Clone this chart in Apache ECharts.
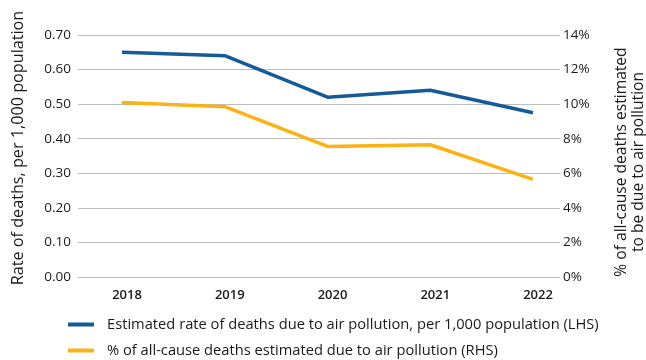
<!DOCTYPE html>
<html>
<head>
<meta charset="utf-8">
<script src="https://cdn.jsdelivr.net/npm/echarts@6/dist/echarts.min.js"></script>
<style>
  html, body { margin: 0; padding: 0; background: #fff; }
  #chart { width: 646px; height: 360px; }
</style>
</head>
<body>
<div id="chart"></div>
<script>
// Years on the horizontal axis
const years = ['2018', '2019', '2020', '2021', '2022'];
// Deaths due to air pollution per 1,000 population (left axis)
const ratePer1000 = [0.65, 0.64, 0.52, 0.54, 0.475];
// Share of all-cause deaths attributed to air pollution, % (right axis)
const sharePct = [10.1, 9.85, 7.55, 7.65, 5.65];

const rateName = 'Estimated rate of deaths due to air pollution, per 1,000 population (LHS)';
const shareName = '% of all-cause deaths estimated due to air pollution (RHS)';

const FONT = '"Open Sans", sans-serif';
const TXT = '#1a1a1a';
const BLUE = '#175a98';
const GOLD = '#fbb216';

const plotTop = 35, plotBottom = 83;

const chart = echarts.init(document.getElementById('chart'));
chart.setOption({
  animation: false,
  textStyle: { fontFamily: FONT, color: TXT },
  grid: [
    // frame carrying the gridlines and tick labels
    { left: 78, right: 86, top: plotTop, bottom: plotBottom },
    // inner frame where the lines are plotted
    { left: 122, right: 113, top: plotTop, bottom: plotBottom }
  ],
  xAxis: [
    { gridIndex: 0, type: 'category', data: years, show: false },
    {
      gridIndex: 1, type: 'category', data: years, boundaryGap: false,
      axisLine: { show: false }, axisTick: { show: false },
      axisLabel: { color: TXT, fontFamily: FONT, fontSize: 13, fontWeight: 600, margin: 12, padding: [0, 0, 0, 10] }
    }
  ],
  yAxis: [
    {
      gridIndex: 0, type: 'value', min: 0, max: 0.7, interval: 0.1,
      axisLine: { show: false }, axisTick: { show: false },
      splitLine: { lineStyle: { color: '#bdbdbd', width: 1 } },
      axisLabel: { color: TXT, fontFamily: FONT, fontSize: 13.5, margin: 7, formatter: v => v.toFixed(2) }
    },
    {
      gridIndex: 0, type: 'value', min: 0, max: 14, interval: 2, position: 'right',
      axisLine: { show: false }, axisTick: { show: false }, splitLine: { show: false },
      axisLabel: { color: TXT, fontFamily: FONT, fontSize: 13.5, margin: 3, formatter: v => v + '%' }
    },
    { gridIndex: 1, type: 'value', min: 0, max: 0.7, show: false },
    { gridIndex: 1, type: 'value', min: 0, max: 14, show: false }
  ],
  legend: {
    orient: 'vertical', left: 68, top: 316, padding: 0,
    icon: 'rect', itemWidth: 26, itemHeight: 4, itemGap: 9,
    textStyle: { fontFamily: FONT, fontSize: 14.7, color: TXT, lineHeight: 17, padding: [0, 0, 0, 8] },
    data: [rateName, shareName]
  },
  graphic: [
    {
      type: 'text', x: 18, y: 148, rotation: Math.PI / 2,
      style: {
        text: 'Rate of deaths, per 1,000 population', fill: TXT,
        font: '500 16.2px ' + FONT, align: 'center', verticalAlign: 'middle'
      }
    },
    {
      type: 'text', x: 630, y: 162, rotation: Math.PI / 2,
      style: {
        text: '% of all-cause deaths estimated\nto be due to air pollution', fill: TXT,
        font: '500 15.6px ' + FONT, align: 'center', verticalAlign: 'middle', lineHeight: 17
      }
    }
  ],
  series: [
    {
      name: rateName, type: 'line', xAxisIndex: 1, yAxisIndex: 2,
      data: ratePer1000, symbol: 'none', lineStyle: { color: BLUE, width: 3.5 }, itemStyle: { color: BLUE }
    },
    {
      name: shareName, type: 'line', xAxisIndex: 1, yAxisIndex: 3,
      data: sharePct, symbol: 'none', lineStyle: { color: GOLD, width: 3.5 }, itemStyle: { color: GOLD }
    }
  ]
});
</script>
</body>
</html>
